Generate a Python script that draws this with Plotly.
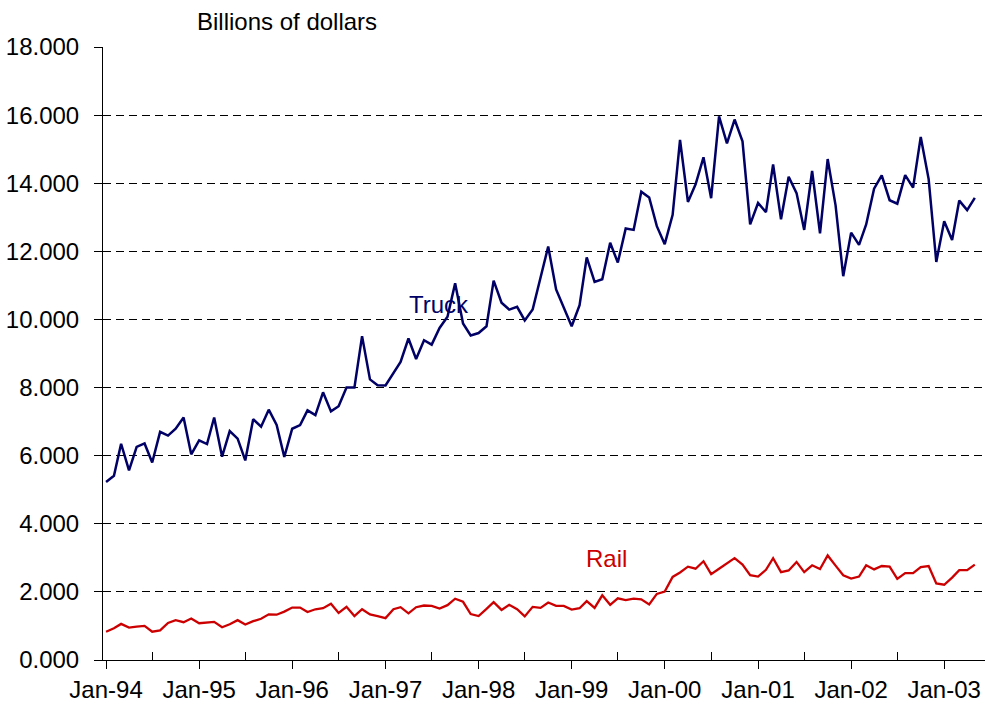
import pandas as pd
import plotly.graph_objects as go

months = pd.date_range("1994-01-01", "2003-05-01", freq="MS")

truck = [5.23, 5.41, 6.35, 5.57, 6.26, 6.36, 5.80, 6.70, 6.59, 6.79,
         7.12, 6.04, 6.45, 6.34, 7.12, 5.97, 6.72, 6.50, 5.86, 7.07,
         6.85, 7.35, 6.90, 5.96, 6.79, 6.90, 7.33, 7.19, 7.86, 7.30,
         7.45, 8.00, 8.00, 9.51, 8.24, 8.07, 8.06, 8.43, 8.75, 9.44,
         8.84, 9.39, 9.26, 9.75, 10.08, 11.06, 9.88, 9.53, 9.60, 9.80,
         11.14, 10.49, 10.29, 10.37, 9.97, 10.29, 11.23, 12.14, 10.88, 10.32,
         9.80, 10.42, 11.82, 11.10, 11.18, 12.25, 11.67, 12.67, 12.63, 13.75,
         13.58, 12.74, 12.21, 13.07, 15.27, 13.45, 13.97, 14.76, 13.56, 15.96,
         15.17, 15.87, 15.23, 12.79, 13.42, 13.15, 14.55, 12.94, 14.19, 13.71,
         12.63, 14.36, 12.53, 14.71, 13.35, 11.27, 12.55, 12.19, 12.79, 13.84,
         14.23, 13.50, 13.40, 14.24, 13.87, 15.36, 14.12, 11.69, 12.88, 12.33,
         13.49, 13.21, 13.57]

rail = [0.83, 0.93, 1.06, 0.95, 0.98, 1.00, 0.83, 0.87, 1.09, 1.17,
        1.11, 1.22, 1.08, 1.09, 1.12, 0.96, 1.05, 1.17, 1.04, 1.14,
        1.21, 1.34, 1.33, 1.42, 1.54, 1.54, 1.41, 1.49, 1.52, 1.65,
        1.38, 1.56, 1.29, 1.49, 1.34, 1.29, 1.23, 1.49, 1.55, 1.37,
        1.55, 1.60, 1.59, 1.51, 1.61, 1.80, 1.71, 1.35, 1.29, 1.50,
        1.70, 1.47, 1.62, 1.49, 1.28, 1.56, 1.53, 1.69, 1.59, 1.59,
        1.48, 1.52, 1.73, 1.53, 1.90, 1.62, 1.81, 1.76, 1.80, 1.78,
        1.63, 1.94, 2.01, 2.44, 2.57, 2.74, 2.68, 2.90, 2.52, 2.68,
        2.83, 2.99, 2.80, 2.49, 2.45, 2.65, 2.99, 2.58, 2.63, 2.88,
        2.58, 2.78, 2.67, 3.07, 2.77, 2.49, 2.39, 2.45, 2.78, 2.66,
        2.76, 2.74, 2.38, 2.55, 2.55, 2.73, 2.76, 2.25, 2.21, 2.42,
        2.64, 2.64, 2.80]

FONT = "Liberation Sans, Arial, sans-serif"
TRUCK_COLOR = "#000066"
RAIL_COLOR = "#CC0000"

fig = go.Figure()
fig.add_trace(go.Scatter(x=months, y=truck, mode="lines", name="Truck",
                         line=dict(color=TRUCK_COLOR, width=2.5)))
fig.add_trace(go.Scatter(x=months, y=rail, mode="lines", name="Rail",
                         line=dict(color=RAIL_COLOR, width=2.3)))

fig.add_annotation(x="1997-07-28", y=10.44, text="Truck", showarrow=False,
                   font=dict(family=FONT, size=24, color=TRUCK_COLOR))
fig.add_annotation(x="1999-05-18", y=2.97, text="Rail", showarrow=False,
                   font=dict(family=FONT, size=24, color=RAIL_COLOR))
fig.add_annotation(xref="paper", yref="paper", x=0.209, y=1.041,
                   xanchor="center", yanchor="middle",
                   text="Billions of dollars", showarrow=False,
                   font=dict(family=FONT, size=24, color="black"))

fig.update_layout(
    width=985, height=708,
    margin=dict(l=103, r=0, t=47, b=48),
    paper_bgcolor="white", plot_bgcolor="white",
    showlegend=False,
    font=dict(family=FONT, size=24, color="black"),
    xaxis=dict(
        type="date",
        range=["1993-12-20", "2003-06-10"],
        tick0="1994-01-01", dtick="M12", tickformat="%b-%y",
        ticks="outside", ticklen=8, tickcolor="black", tickwidth=1,
        showgrid=False, showline=True, linecolor="black", linewidth=1,
        zeroline=False,
        minor=dict(ticks="inside", ticklen=8, tickcolor="black",
                   tick0="1994-07-01", dtick="M12", showgrid=False),
        tickfont=dict(family=FONT, size=24, color="black"),
    ),
    yaxis=dict(
        range=[0, 18], dtick=2, tickformat=".3f",
        ticks="outside", ticklen=8, tickcolor="black", tickwidth=1,
        showgrid=True, gridcolor="black", gridwidth=1, griddash="8px,5px",
        showline=True, linecolor="black", linewidth=1, zeroline=False,
        ticklabelstandoff=10,
        tickfont=dict(family=FONT, size=24, color="black"),
    ),
)

fig.write_html("out.html", config={"displayModeBar": False},
               post_script="document.body.style.margin='0';")
